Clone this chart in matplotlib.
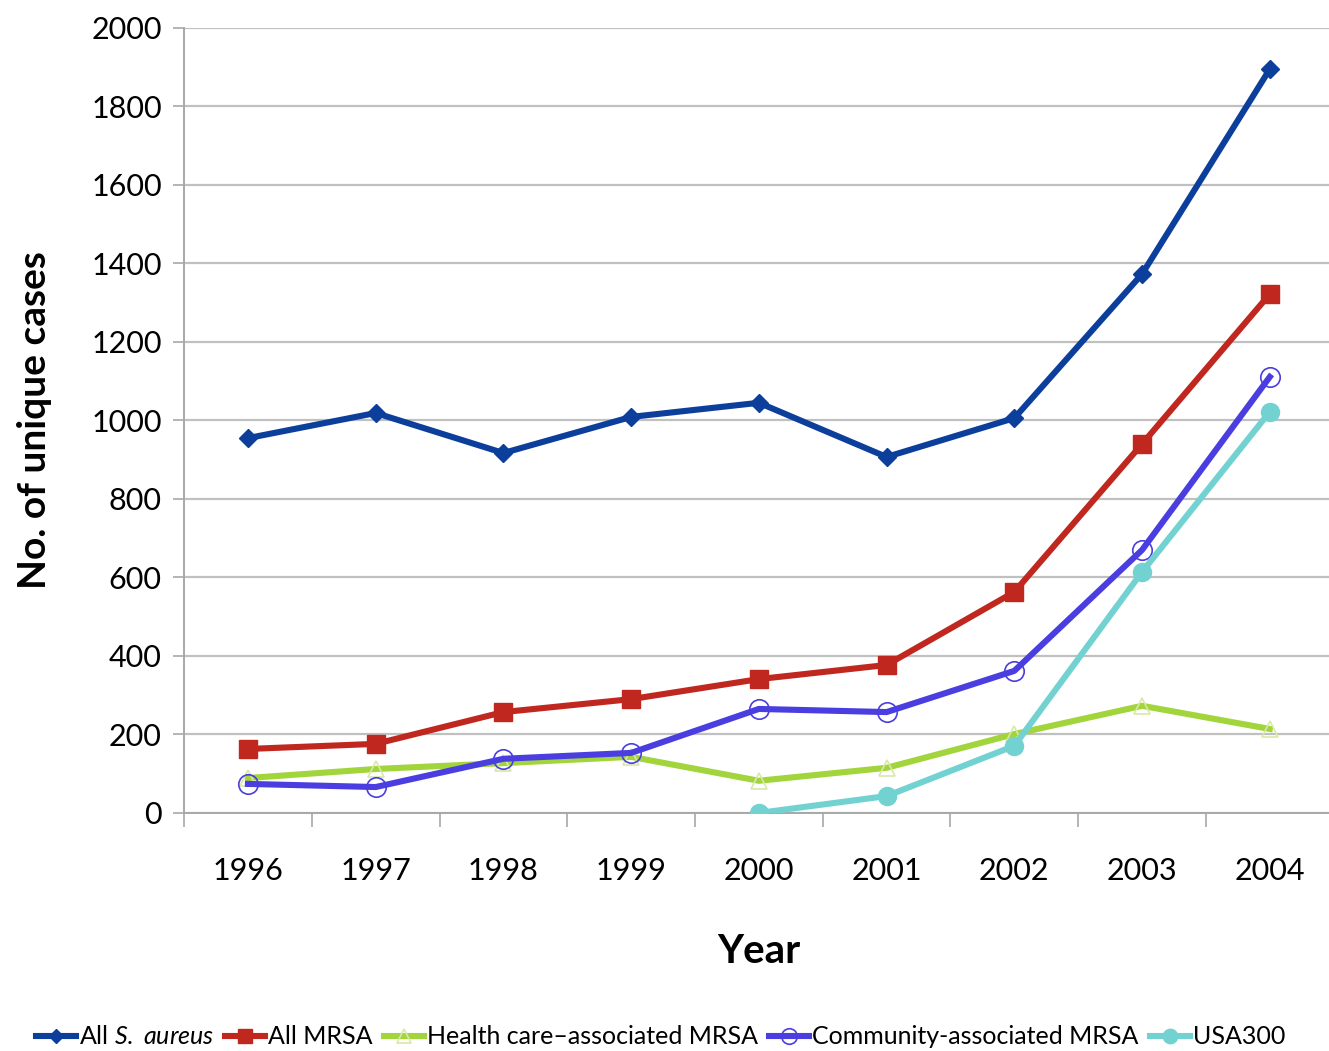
import numpy as np
import matplotlib.pyplot as plt
from matplotlib.ticker import MultipleLocator

plt.rcParams['font.family'] = ['Lato', 'DejaVu Sans']
plt.rcParams['mathtext.fontset'] = 'custom'
plt.rcParams['mathtext.rm'] = 'Lato'
plt.rcParams['mathtext.it'] = 'Lato:italic'

years = ['1996', '1997', '1998', '1999', '2000', '2001', '2002', '2003', '2004']

all_aureus = [955, 1019, 917, 1009, 1045, 907, 1006, 1373, 1895]
all_mrsa = [163, 176, 257, 290, 341, 377, 563, 940, 1322]
hc_mrsa = [89, 112, 127, 143, 82, 115, 201, 273, 214]
ca_mrsa = [74, 66, 138, 153, 265, 257, 362, 670, 1111]
usa300_years = ['2000', '2001', '2002', '2003', '2004']
usa300 = [0, 43, 171, 614, 1022]

x = np.arange(len(years))
x300 = np.array([years.index(y) for y in usa300_years])

fig = plt.figure(figsize=(13.29, 10.51), dpi=100)
ax = fig.add_axes([0.1385, 0.2265, 0.865, 0.7469])

lw = 4.4
ax.plot(x, all_aureus, color='#0c3f9c', lw=lw, marker='D', ms=9,
        label='All $S.$ $aureus$', zorder=5)
ax.plot(x, all_mrsa, color='#c0281f', lw=lw, marker='s', ms=13,
        label='All MRSA', zorder=4)
ax.plot(x, hc_mrsa, color='#a2d43c', lw=lw, marker='^', ms=12, mfc='none',
        mec='#d8e8a8', mew=1.2, label='Health care\u2013associated MRSA', zorder=2)
ax.plot(x, ca_mrsa, color='#4a3ee0', lw=lw, marker='o', ms=14, mfc='none',
        mec='#4a3ee0', mew=1.2, label='Community-associated MRSA', zorder=3)
ax.plot(x300, usa300, color='#72d2d2', lw=lw, marker='o', ms=13,
        label='USA300', zorder=3)

ax.set_ylim(0, 2000)
ax.set_xlim(-0.5, 8.5)
ax.yaxis.set_major_locator(MultipleLocator(200))
ax.set_xticks(x)
ax.set_xticklabels(years)
ax.set_xticks(np.arange(-0.5, 9, 1), minor=True)
ax.tick_params(axis='x', which='major', length=0, pad=32, labelsize=22)
ax.tick_params(axis='x', which='minor', length=10, width=1.2, color='#a8a8a8')
ax.tick_params(axis='y', length=8, width=1.2, color='#a8a8a8', labelsize=22, pad=8)

ax.grid(axis='y', color='#c0c0c0', lw=1.6)
ax.set_axisbelow(True)
for side in ['top', 'right']:
    ax.spines[side].set_visible(False)
for side in ['left', 'bottom']:
    ax.spines[side].set_color('#a8a8a8')
    ax.spines[side].set_linewidth(1.4)

ax.set_xlabel('Year', fontsize=29, fontweight='bold', labelpad=34)
ax.set_ylabel('No. of unique cases', fontsize=28, fontweight='bold', labelpad=28)

fig.legend(loc='lower left', bbox_to_anchor=(0.01, -0.019), ncol=5, frameon=False,
           fontsize=18, handlelength=1.6, handletextpad=0.12, columnspacing=0.45,
           markerscale=0.8)

fig.savefig('out.png', dpi=100)
